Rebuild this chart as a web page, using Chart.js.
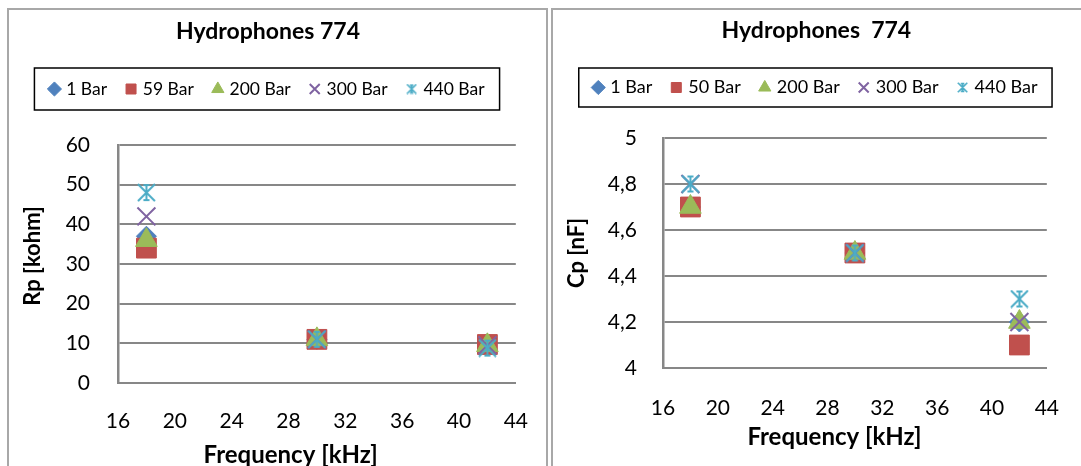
<!DOCTYPE html>
<html>
<head>
<meta charset="utf-8">
<script src="https://cdn.jsdelivr.net/npm/chart.js@4.4.0/dist/chart.umd.min.js"></script>
<style>
  html, body { margin: 0; padding: 0; background: #fff; }
  body { position: relative; width: 1081px; height: 466px; overflow: hidden; }
  .frame { position: absolute; border: 2px solid #a8a8a8; box-sizing: border-box; }
  #frameRp { left: 7px; top: 8px; width: 541px; height: 490px; }
  #frameCp { left: 551px; top: 8px; width: 560px; height: 490px; }
  canvas { position: absolute; }
  #rpChart { left: 9px; top: 10px; }
  #cpChart { left: 553px; top: 10px; }
</style>
</head>
<body>
<div class="frame" id="frameRp"></div>
<div class="frame" id="frameCp"></div>
<canvas id="rpChart" width="545" height="456"></canvas>
<canvas id="cpChart" width="534" height="456"></canvas>
<script>
// Measurement frequencies (kHz)
const frequencies = [18, 30, 42];

// Parallel resistance Rp [kohm] per static pressure
const rpLabels = ['1 Bar', '59 Bar', '200 Bar', '300 Bar', '440 Bar'];
const rp1Bar   = [37, 11, 10];
const rp59Bar  = [34, 11, 9.7];
const rp200Bar = [36, 11, 9.5];
const rp300Bar = [42, 11, 9.5];
const rp440Bar = [48, 11, 8.8];

// Parallel capacitance Cp [nF] per static pressure
const cpLabels = ['1 Bar', '50 Bar', '200 Bar', '300 Bar', '440 Bar'];
const cp1Bar   = [4.7, 4.5, 4.2];
const cp50Bar  = [4.7, 4.5, 4.1];
const cp200Bar = [4.7, 4.5, 4.2];
const cp300Bar = [4.8, 4.5, 4.2];
const cp440Bar = [4.8, 4.5, 4.3];

// Axis ticks
const freqTicks = [16, 20, 24, 28, 32, 36, 40, 44];
const rpTicks = [0, 10, 20, 30, 40, 50, 60];
const cpTicks = [4, 4.2, 4.4, 4.6, 4.8, 5];
const cpTickLabels = ['4', '4,2', '4,4', '4,6', '4,8', '5'];

const FONT = 'Lato, "Open Sans", sans-serif';
const GRID = '#878787';

// Asterisk marker: diagonal cross plus a vertical bar with small caps
function starMarker(size, color, lw) {
  const c = document.createElement('canvas');
  c.width = c.height = size;
  const g = c.getContext('2d');
  const h = size / 2, a = h - lw / 2, cap = size * 0.16;
  g.strokeStyle = color;
  g.lineWidth = lw;
  g.lineCap = 'butt';
  g.beginPath();
  g.moveTo(h - a, h - a); g.lineTo(h + a, h + a);
  g.moveTo(h + a, h - a); g.lineTo(h - a, h + a);
  g.moveTo(h, h - a); g.lineTo(h, h + a);
  g.moveTo(h - cap, h - a + lw / 2); g.lineTo(h + cap, h - a + lw / 2);
  g.moveTo(h - cap, h + a - lw / 2); g.lineTo(h + cap, h + a - lw / 2);
  g.stroke();
  return c;
}

// Office-style marker look for each pressure series
const markerStyles = [
  { color: '#4F81BD', pointStyle: 'rectRot',  radius: 10,   border: 1 },
  { color: '#C0504D', pointStyle: 'rect',     radius: 14,   border: 1 },
  { color: '#9BBB59', pointStyle: 'triangle', radius: 12.5, border: 1 },
  { color: '#8064A2', pointStyle: 'crossRot', radius: 12.7, border: 2 },
  { color: '#4BACC6', pointStyle: starMarker(19, '#4BACC6', 2), radius: 9, border: 2,
    legendStyle: starMarker(11, '#4BACC6', 1.6) }
];

function buildDatasets(labels, series) {
  return series.map((values, i) => {
    const s = markerStyles[i];
    return {
      label: labels[i],
      data: frequencies.map((f, k) => ({ x: f, y: values[k] })),
      showLine: false,
      pointStyle: s.pointStyle,
      pointRadius: s.radius,
      pointBorderWidth: s.border,
      pointBackgroundColor: s.color,
      borderColor: s.color,
      backgroundColor: s.color,
      order: series.length - i  // later series sit on top
    };
  });
}

// Legend entries in series order, with a smaller asterisk glyph
function legendItems(chart) {
  const items = Chart.defaults.plugins.legend.labels.generateLabels(chart);
  items.forEach(it => {
    const s = markerStyles[it.datasetIndex];
    if (s.legendStyle) it.pointStyle = s.legendStyle;
  });
  return items.sort((a, b) => a.datasetIndex - b.datasetIndex);
}

// Frame around the legend items
const legendFrame = {
  id: 'legendFrame',
  afterDraw(chart, args, opts) {
    const lg = chart.legend;
    if (!lg || !lg.legendHitBoxes || !lg.legendHitBoxes.length) return;
    const boxes = lg.legendHitBoxes;
    const first = boxes[0], last = boxes[boxes.length - 1];
    const cy = first.top + first.height / 2;
    const ctx = chart.ctx;
    const left = first.left - opts.lead, right = last.left + last.width + opts.trail;
    ctx.save();
    ctx.strokeStyle = '#000';
    ctx.lineWidth = 1.5;
    ctx.strokeRect(left, cy - opts.half, right - left, 2 * opts.half);
    ctx.restore();
  }
};

function makeChart(id, cfg) {
  return new Chart(document.getElementById(id), {
    type: 'scatter',
    data: { datasets: buildDatasets(cfg.labels, cfg.series) },
    plugins: [legendFrame],
    options: {
      responsive: false,
      animation: false,
      events: [],
      layout: { padding: { left: cfg.padLeft, right: cfg.padRight, top: 0, bottom: 0 } },
      plugins: {
        tooltip: { enabled: false },
        legendFrame: { half: cfg.frameHalf, lead: cfg.frameLead, trail: cfg.frameTrail },
        title: {
          display: true,
          text: cfg.title,
          color: '#000',
          font: { family: FONT, size: 23, weight: 'bold', lineHeight: 1.2 },
          padding: { top: cfg.titleTop, bottom: cfg.titleBottom }
        },
        // empty spacer between the legend and the plot
        subtitle: {
          display: true,
          text: '',
          weight: 500,
          font: { size: 10, lineHeight: 1 },
          padding: { top: 0, bottom: cfg.gapBottom }
        },
        legend: {
          display: true,
          position: 'top',
          labels: {
            usePointStyle: true,
            boxWidth: 6,
            boxHeight: 10,
            padding: 21,
            color: '#000',
            font: { family: FONT, size: cfg.legendSize },
            generateLabels: legendItems
          }
        }
      },
      scales: {
        x: {
          type: 'linear',
          min: freqTicks[0],
          max: freqTicks[freqTicks.length - 1],
          afterBuildTicks: (axis) => { axis.ticks = freqTicks.map(v => ({ value: v })); },
          afterFit: (axis) => { axis.height = cfg.xAxisHeight; },
          grid: { display: false, drawTicks: false },
          border: { display: true, color: GRID, width: 2 },
          ticks: { color: '#000', padding: cfg.xTickPad, font: { family: FONT, size: 21 } },
          title: {
            display: true,
            text: cfg.xTitle,
            color: '#000',
            font: { family: FONT, size: 24, weight: 'bold' },
            padding: { top: 0, bottom: cfg.xTitlePad }
          }
        },
        y: {
          type: 'linear',
          min: cfg.yTicks[0],
          max: cfg.yTicks[cfg.yTicks.length - 1],
          afterBuildTicks: (axis) => { axis.ticks = cfg.yTicks.map(v => ({ value: v })); },
          afterFit: (axis) => { axis.width = cfg.yAxisWidth; },
          grid: { color: GRID, lineWidth: 2, drawTicks: false },
          border: { display: true, color: GRID, width: 2.5 },
          ticks: {
            color: '#000',
            padding: cfg.yTickPad,
            font: { family: FONT, size: 21 },
            callback: (value, index) => cfg.yTickLabels[index]
          },
          title: {
            display: true,
            text: cfg.yTitle,
            color: '#000',
            font: { family: FONT, size: 22, weight: 'bold' },
            padding: { top: cfg.yTitlePad, bottom: 0 }
          }
        }
      }
    }
  });
}

makeChart('rpChart', {
  title: 'Hydrophones 774',
  labels: rpLabels,
  series: [rp1Bar, rp59Bar, rp200Bar, rp300Bar, rp440Bar],
  yTicks: rpTicks,
  yTickLabels: rpTicks.map(String),
  yTitle: '   Rp [kohm]',
  xTitle: 'Frequency [kHz]         ',
  legendSize: 17.5, frameHalf: 21, frameLead: 17, frameTrail: 15,
  padLeft: 0, padRight: 27,
  titleTop: 7.4, titleBottom: 14.25,
  gapBottom: 27.25,
  xAxisHeight: 83, xTickPad: 26, xTitlePad: -4,
  yAxisWidth: 109, yTickPad: 28, yTitlePad: 10.8
});

makeChart('cpChart', {
  title: 'Hydrophones  774',
  labels: cpLabels,
  series: [cp1Bar, cp50Bar, cp200Bar, cp300Bar, cp440Bar],
  yTicks: cpTicks,
  yTickLabels: cpTickLabels,
  yTitle: 'Cp [nF]',
  xTitle: 'Frequency [kHz]       ',
  legendSize: 18, frameHalf: 19.5, frameLead: 16.5, frameTrail: 14.5,
  padLeft: 0, padRight: 7.2,
  titleTop: 6.4, titleBottom: 13.5,
  gapBottom: 21.5,
  xAxisHeight: 98, xTickPad: 28, xTitlePad: 14,
  yAxisWidth: 110, yTickPad: 26, yTitlePad: 10.8
});
</script>
</body>
</html>
